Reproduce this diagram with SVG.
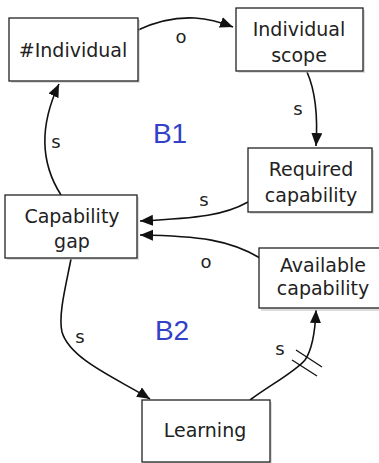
<svg xmlns="http://www.w3.org/2000/svg" width="379" height="463" viewBox="0 0 379 463">
<defs>
<style>
.box{fill:#fff;stroke:#222;stroke-width:1.3}
.sh{fill:#bbb;opacity:0.5}
.t{font-family:"DejaVu Sans",sans-serif;font-size:19px;fill:#222;text-anchor:middle}
.l{font-family:"DejaVu Sans",sans-serif;font-size:18px;fill:#222;text-anchor:middle}
.b{font-family:"Liberation Sans",Arial,sans-serif;font-size:28px;fill:#3340c8;text-anchor:middle}
.c{fill:none;stroke:#111;stroke-width:1.6}
.h{stroke:#111;stroke-width:1.3}
</style>
<marker id="ah" markerUnits="userSpaceOnUse" markerWidth="14" markerHeight="12" refX="13" refY="5.5" orient="auto">
<path d="M0,0 L13,5.5 L0,11 z" fill="#111"/>
</marker>
</defs>
<g id="connectors">
<path class="c" marker-end="url(#ah)" d="M138,30 C155,22 175,17 195,18 C210,19 220,22 233,27"/>
<text class="l" x="181" y="43">o</text>
<path class="c" marker-end="url(#ah)" d="M307,72 C315,90 318,115 316,146"/>
<text class="l" x="298" y="115">s</text>
<path class="c" marker-end="url(#ah)" d="M248,202 C225,215 200,218 140,221"/>
<text class="l" x="204" y="206">s</text>
<path class="c" marker-end="url(#ah)" d="M260,258 C230,240 200,236 140,235"/>
<text class="l" x="206" y="268">o</text>
<path class="c" marker-end="url(#ah)" d="M61,195 C45,170 35,135 59,84"/>
<text class="l" x="56" y="148">s</text>
<path class="c" marker-end="url(#ah)" d="M71,259 C66,285 58,315 62,332 C70,360 120,380 150,399"/>
<text class="l" x="80" y="343">s</text>
<path class="c" marker-end="url(#ah)" d="M250,400 C270,385 295,372 305,360 C312,350 315,335 316,310"/>
<line class="h" x1="296" y1="350" x2="322" y2="367"/>
<line class="h" x1="292" y1="360" x2="317" y2="376"/>
<text class="l" x="280" y="355">s</text>
</g>
<g id="individual">
<rect class="sh" x="11" y="20" width="129" height="63"/>
<rect class="box" x="9" y="18" width="129" height="63"/>
<text class="t" x="73" y="57">#Individual</text>
</g>
<g id="individual-scope">
<rect class="sh" x="238" y="10" width="127" height="63"/>
<rect class="box" x="236" y="8" width="127" height="63"/>
<text class="t" x="299" y="36">Individual</text>
<text class="t" x="299" y="62">scope</text>
</g>
<g id="required-capability">
<rect class="sh" x="250" y="150" width="124" height="64"/>
<rect class="box" x="248" y="148" width="124" height="64"/>
<text class="t" x="311" y="176">Required</text>
<text class="t" x="311" y="202">capability</text>
</g>
<g id="capability-gap">
<rect class="sh" x="7" y="197" width="132" height="63"/>
<rect class="box" x="5" y="195" width="132" height="63"/>
<text class="t" x="72" y="223">Capability</text>
<text class="t" x="72" y="248">gap</text>
</g>
<g id="available-capability">
<rect class="sh" x="261" y="250" width="128" height="61"/>
<rect class="box" x="259" y="248" width="128" height="60"/>
<text class="t" x="323" y="272">Available</text>
<text class="t" x="323" y="295">capability</text>
</g>
<g id="learning">
<rect class="sh" x="144" y="402" width="128" height="62"/>
<rect class="box" x="142" y="400" width="128" height="62"/>
<text class="t" x="205" y="437">Learning</text>
</g>
<g id="loop-labels">
<text class="b" x="170" y="143">B1</text>
<text class="b" x="172" y="340">B2</text>
</g>
</svg>
